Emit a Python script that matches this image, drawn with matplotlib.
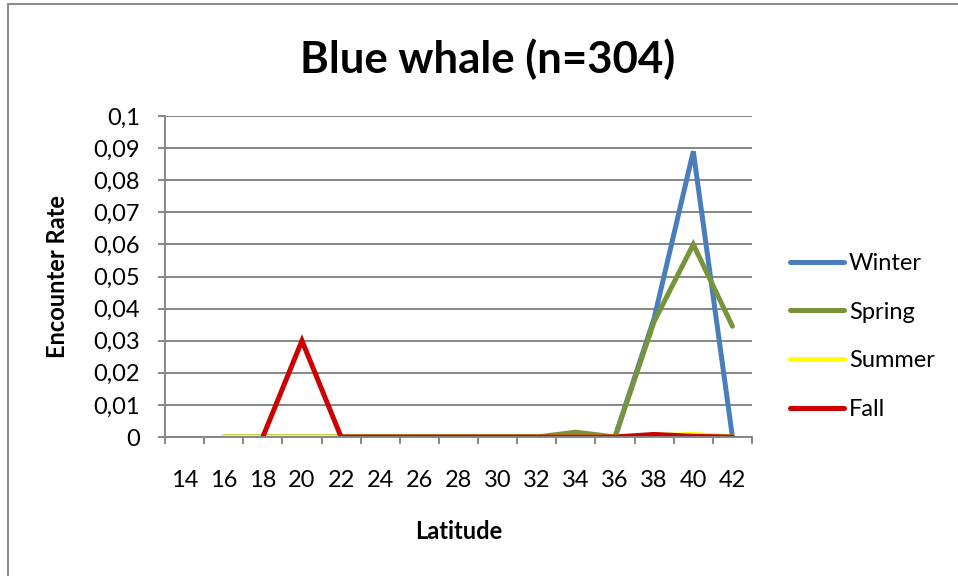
import numpy as np
import matplotlib.pyplot as plt
from matplotlib.lines import Line2D

plt.rcParams['font.family'] = ['Lato', 'DejaVu Sans']

latitude = [14, 16, 18, 20, 22, 24, 26, 28, 30, 32, 34, 36, 38, 40, 42]
nan = np.nan

winter = [nan, 0, 0, 0, 0, 0, 0, 0, 0, 0, 0, 0, 0.037, 0.089, 0]
spring = [nan, 0, 0, 0, 0, 0, 0, 0, 0, 0, 0.0015, 0, 0.036, 0.060, 0.0345]
summer = [nan, 0, 0, 0, 0, 0, 0, 0, 0, 0, 0, 0, 0.0004, 0.0008, 0]
fall = [nan, nan, 0, 0.030, 0, 0, 0, 0, 0, 0, 0, 0, 0.0008, 0.0002, 0]

series = ['Winter', 'Spring', 'Summer', 'Fall']
colors = ['#4a7ebb', '#77933c', '#ffff00', '#cc0000']

fig = plt.figure(figsize=(9.58, 5.76), dpi=100)
ax = fig.add_axes([165 / 958, 1 - 437 / 576, (752 - 165) / 958, (437 - 116) / 576])

x = np.arange(len(latitude))
for name, vals, c in zip(series, [winter, spring, summer, fall], colors):
    ax.plot(x, vals, color=c, lw=3.6, label=name, solid_capstyle='round', solid_joinstyle='miter')

grey = '#868686'
ax.set_xlim(-0.5, len(latitude) - 0.5)
ax.set_ylim(0, 0.1)
ax.set_yticks(np.arange(0, 0.101, 0.01))
ax.set_yticklabels(['0'] + [('%.2f' % v).rstrip('0').replace('.', ',') for v in np.arange(0.01, 0.101, 0.01)])
ax.yaxis.grid(True, color=grey, lw=1.4)
ax.set_axisbelow(True)

# category labels sit between the tick marks
ax.set_xticks(x)
ax.set_xticklabels([str(v) for v in latitude])
ax.set_xticks(np.arange(-0.5, len(latitude), 1), minor=True)
ax.tick_params(axis='x', which='major', length=0, pad=24, labelsize=17)
ax.tick_params(axis='x', which='minor', length=5, width=1.4, color=grey, direction='out')
ax.tick_params(axis='y', length=5, width=1.4, color=grey, pad=13, labelsize=17)

for s in ['top', 'right']:
    ax.spines[s].set_visible(False)
for s in ['left', 'bottom']:
    ax.spines[s].set_color(grey)
    ax.spines[s].set_linewidth(1.4)

ax.set_xlabel('Latitude', fontsize=17, fontweight='bold', va='baseline')
ax.xaxis.set_label_coords(0.5, -(539 - 437) / 321)
ax.set_ylabel('Encounter Rate', fontsize=17, fontweight='bold', va='baseline')
ax.yaxis.set_label_coords(-(165 - 65) / 587, 0.5)

fig.text(488 / 958, 1 - 73 / 576, 'Blue whale (n=304)', fontsize=31.5, fontweight='bold',
         ha='center', va='baseline')

handles = [Line2D([], [], color=c, lw=3.6, solid_capstyle='round') for c in colors]
fig.legend(handles, series, loc='upper left', bbox_to_anchor=(790 / 958, 1 - 253 / 576),
           frameon=False, fontsize=17, handlelength=2.3, handletextpad=0.2,
           labelspacing=1.17, borderpad=0, borderaxespad=0)

# chart frame
fig.add_artist(plt.Line2D([8 / 958, 8 / 958], [0, 1 - 4 / 576], color='#8c8c8c', lw=1.5))
fig.add_artist(plt.Line2D([8 / 958, 1], [1 - 4 / 576, 1 - 4 / 576], color='#8c8c8c', lw=1.5))

fig.savefig('out.png', dpi=100)
